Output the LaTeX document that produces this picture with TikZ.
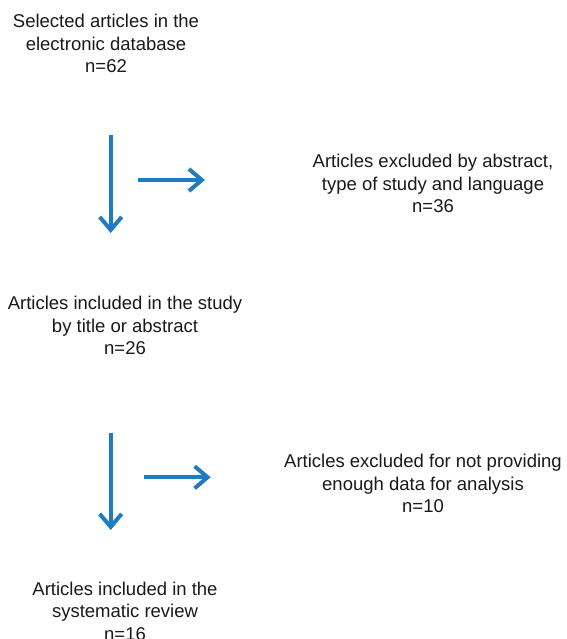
\documentclass[tikz,border=0pt]{standalone}
\usepackage{fontspec}
\setmainfont{Liberation Sans}
\usetikzlibrary{arrows.meta}
\definecolor{flowblue}{RGB}{31,124,193}
\begin{document}
\begin{tikzpicture}[x=1pt,y=1pt,
  txt/.style={align=center,inner sep=0pt,anchor=base,text=black!90,
    font=\fontsize{18.5}{22.6}\selectfont},
  flowarrow/.style={draw=flowblue,line width=4pt,
    -{Straight Barb[length=13pt,width=22pt,line width=4pt]}}]
\useasboundingbox (0,0) rectangle (566,639);
\node[txt] (sel) at (106,566.3) {Selected articles in the\\electronic database\\n=62};
\node[txt] (exc1) at (433,426.3) {Articles excluded by abstract,\\type of study and language\\n=36};
\node[txt] (inc1) at (125,284) {Articles included in the study\\by title or abstract\\n=26};
\node[txt] (exc2) at (423,126.3) {Articles excluded for not providing\\enough data for analysis\\n=10};
\node[txt] (inc2) at (125,-1.5) {Articles included in the\\systematic review\\n=16};
\coordinate (v1s) at (110.7,504);
\coordinate (v1e) at (110.7,406);
\coordinate (h1s) at (138.3,459);
\coordinate (h1e) at (205,459);
\coordinate (v2s) at (110.7,206.3);
\coordinate (v2e) at (110.7,109);
\coordinate (h2s) at (144,161.7);
\coordinate (h2e) at (210.7,161.7);
\draw[flowarrow] (v1s) -- (v1e);
\draw[flowarrow] (h1s) -- (h1e);
\draw[flowarrow] (v2s) -- (v2e);
\draw[flowarrow] (h2s) -- (h2e);
\end{tikzpicture}
\end{document}
